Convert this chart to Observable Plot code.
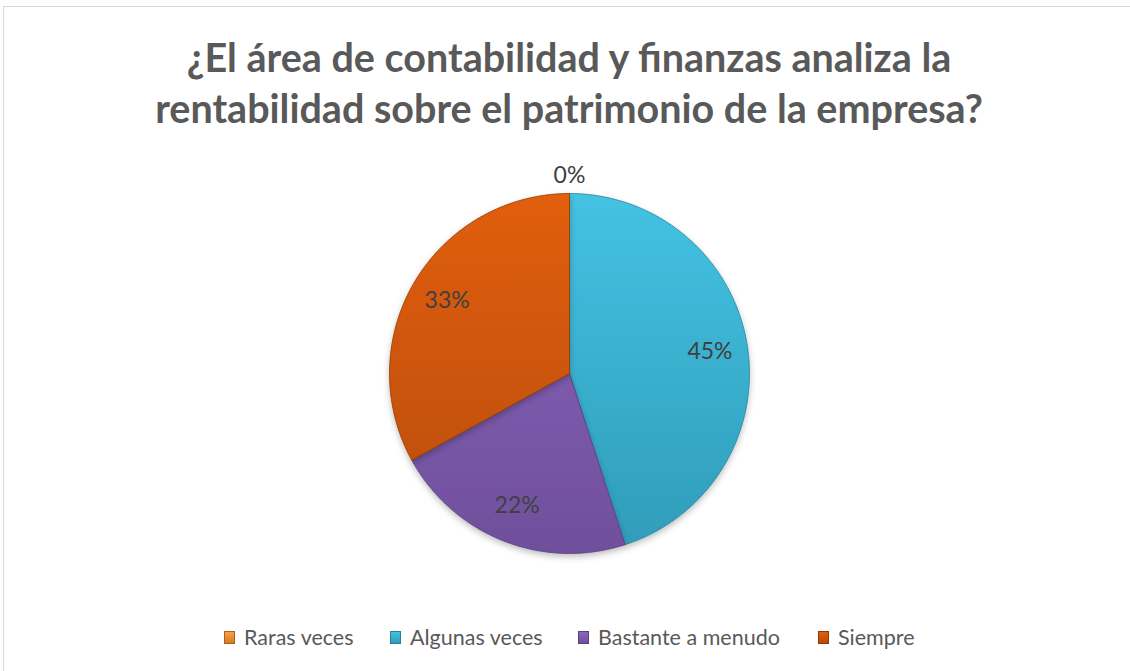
<!DOCTYPE html>
<html>
<head>
<meta charset="utf-8">
<script src="https://cdn.jsdelivr.net/npm/d3@7"></script>
<script src="https://cdn.jsdelivr.net/npm/@observablehq/plot@0.6"></script>
<style>
  html, body { margin: 0; padding: 0; background: #fff; }
  #wrap { position: relative; width: 1130px; height: 671px; overflow: hidden; font-family: Lato, "Open Sans", sans-serif; }
  #frame { position: absolute; left: 3px; top: 6px; right: -10px; bottom: -10px; border-top: 1.5px solid #d9d9d9; border-left: 1.5px solid #d9d9d9; }
  #title { position: absolute; left: 0; width: 1138px; top: 31px; text-align: center; font-weight: bold; font-size: 39.5px; line-height: 51px; color: #595959; }
  #chart { position: absolute; left: 0; top: 150px; }
  #legend { position: absolute; top: 624px; left: 0; width: 1130px; height: 26px; font-size: 21.5px; color: #595959; }
  .item { position: absolute; top: 0; display: flex; align-items: center; height: 26px; white-space: nowrap; }
  .sw { width: 11px; height: 13px; margin-right: 9px; box-sizing: border-box; }
</style>
</head>
<body>
<div id="wrap">
  <div id="frame"></div>
  <div id="title">¿El área de contabilidad y finanzas analiza la<br>rentabilidad sobre el patrimonio de la empresa?</div>
  <div id="chart"></div>
  <div id="legend"></div>
</div>
<script>
// ---- data ----
const categories = ["Raras veces", "Algunas veces", "Bastante a menudo", "Siempre"];
const values = [0, 45, 22, 33];
const labels = ["0%", "45%", "22%", "33%"];

// ---- styles ----
const topColors = ["#f8a04a", "#44c2e3", "#8a66bd", "#e15e0c"];
const bottomColors = ["#d97a20", "#2f9cb9", "#6f4f9c", "#b84c05"];
const edgeColors = ["#b0601a", "#2a7f98", "#584080", "#8e3a04"];

const W = 1130, H = 450;
const cx = 569, cy = 223, R = 180;

const total = d3.sum(values);
let cum = 0;
const slices = categories.map((c, i) => {
  const a0 = cum / total * 2 * Math.PI;
  cum += values[i];
  const a1 = cum / total * 2 * Math.PI;
  return {category: c, value: values[i], label: labels[i], a0, a1, i};
});

// polygon vertices in unit-circle space (angle clockwise from 12 o'clock)
function polygon(s) {
  const pts = [{x: 0, y: 0, category: s.category}];
  const n = Math.max(2, Math.ceil((s.a1 - s.a0) / (Math.PI / 360)));
  for (let k = 0; k <= n; k++) {
    const a = s.a0 + (s.a1 - s.a0) * k / n;
    pts.push({x: Math.sin(a), y: Math.cos(a), category: s.category});
  }
  pts.push({x: 0, y: 0, category: s.category});
  return pts;
}

const labelData = slices.map(s => {
  const m = (s.a0 + s.a1) / 2;
  const r = s.value > 0 ? 0.79 : 1.1;
  return {x: Math.sin(m) * r, y: Math.cos(m) * r, label: s.label};
});

const marks = slices.filter(s => s.value > 0).map(s =>
  Plot.line(polygon(s), {x: "x", y: "y", fill: `url(#grad${s.i})`, stroke: edgeColors[s.i], strokeWidth: 1, strokeOpacity: 0.8, curve: "linear"})
);
marks.push(Plot.text(labelData, {x: "x", y: "y", text: "label", fill: "#404040", fontSize: 23, fontFamily: "Lato, 'Open Sans', sans-serif"}));

const chart = Plot.plot({
  width: W, height: H,
  margin: 0,
  x: {domain: [-cx / R, (W - cx) / R], axis: null},
  y: {domain: [-(H - cy) / R, cy / R], axis: null},
  style: {background: "transparent", overflow: "visible"},
  marks
});

// gradients + shadow
const svg = d3.select(chart);
const defs = svg.insert("defs", ":first-child");
slices.forEach(s => {
  const g = defs.append("linearGradient").attr("id", `grad${s.i}`)
    .attr("gradientUnits", "userSpaceOnUse")
    .attr("x1", 0).attr("y1", cy - R).attr("x2", 0).attr("y2", cy + R);
  g.append("stop").attr("offset", "0%").attr("stop-color", topColors[s.i]);
  g.append("stop").attr("offset", "100%").attr("stop-color", bottomColors[s.i]);
});
const f = defs.append("filter").attr("id", "shadow").attr("x", "-20%").attr("y", "-20%").attr("width", "140%").attr("height", "140%");
f.append("feDropShadow").attr("dx", 0).attr("dy", 3).attr("stdDeviation", 3).attr("flood-color", "#000").attr("flood-opacity", 0.25);
svg.selectAll("g[aria-label='line']").attr("filter", "url(#shadow)");

document.getElementById("chart").appendChild(chart);

// legend
const legendX = [224, 390, 578, 818];
const legend = document.getElementById("legend");
categories.forEach((c, i) => {
  const item = document.createElement("div");
  item.className = "item";
  item.style.left = legendX[i] + "px";
  const sw = document.createElement("span");
  sw.className = "sw";
  sw.style.background = `linear-gradient(${topColors[i]}, ${bottomColors[i]})`;
  sw.style.border = `1px solid ${edgeColors[i]}`;
  const t = document.createElement("span");
  t.textContent = c;
  item.appendChild(sw); item.appendChild(t);
  legend.appendChild(item);
});
</script>
</body>
</html>
